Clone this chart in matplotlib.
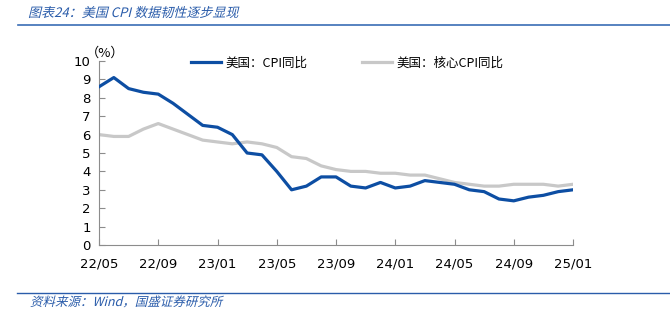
import matplotlib
matplotlib.use("Agg")
import matplotlib.pyplot as plt
from matplotlib.textpath import TextPath
from matplotlib.patches import PathPatch
from matplotlib.font_manager import FontProperties
from matplotlib.transforms import Affine2D

# monthly data, 2022/05 .. 2025/01
months = ["22/05", "22/06", "22/07", "22/08", "22/09", "22/10", "22/11", "22/12",
          "23/01", "23/02", "23/03", "23/04", "23/05", "23/06", "23/07", "23/08",
          "23/09", "23/10", "23/11", "23/12", "24/01", "24/02", "24/03", "24/04",
          "24/05", "24/06", "24/07", "24/08", "24/09", "24/10", "24/11", "24/12",
          "25/01"]
cpi = [8.6, 9.1, 8.5, 8.3, 8.2, 7.7, 7.1, 6.5,
       6.4, 6.0, 5.0, 4.9, 4.0, 3.0, 3.2, 3.7,
       3.7, 3.2, 3.1, 3.4, 3.1, 3.2, 3.5, 3.4,
       3.3, 3.0, 2.9, 2.5, 2.4, 2.6, 2.7, 2.9,
       3.0]
core_cpi = [6.0, 5.9, 5.9, 6.3, 6.6, 6.3, 6.0, 5.7,
            5.6, 5.5, 5.6, 5.5, 5.3, 4.8, 4.7, 4.3,
            4.1, 4.0, 4.0, 3.9, 3.9, 3.8, 3.8, 3.6,
            3.4, 3.3, 3.2, 3.2, 3.3, 3.3, 3.3, 3.2,
            3.3]
label_cpi = "美国：CPI同比"
label_core = "美国：核心CPI同比"
title = "图表24：美国 CPI 数据韧性逐步显现"
source = "资料来源：Wind，国盛证券研究所"

BLUE = "#0D4EA3"
GREY = "#C8C8C8"
TXT_BLUE = "#2A5CAA"
AXIS = "#8C8C8C"
cjk = ["Noto Sans CJK SC", "DejaVu Sans"]

fig = plt.figure(figsize=(6.7, 3.26), dpi=100)
ax = fig.add_axes([99 / 670, 1 - 245 / 326, 474 / 670, 184 / 326])

x = list(range(len(months)))
ax.plot(x, cpi, color=BLUE, lw=2.3, solid_joinstyle="round", label=label_cpi, zorder=3)
ax.plot(x, core_cpi, color=GREY, lw=2.3, solid_joinstyle="round", label=label_core, zorder=2)

ax.set_xlim(0, len(months) - 1)
ax.set_ylim(0, 10)
ax.set_yticks(range(0, 11))
ax.set_xticks(x[::4])
ax.set_xticklabels(months[::4])
for s in ["top", "right"]:
    ax.spines[s].set_visible(False)
for s in ["left", "bottom"]:
    ax.spines[s].set_color(AXIS)
    ax.spines[s].set_linewidth(0.8)
ax.tick_params(axis="both", direction="in", color=AXIS, length=4, width=0.8,
               labelsize=9.5, labelcolor="black")
ax.tick_params(axis="x", pad=9)
ax.tick_params(axis="y", pad=6)

ax.text(-0.9, 10.05, "（%）", fontsize=9.5, family=cjk, ha="left", va="bottom")

leg = ax.legend(loc="upper left", bbox_to_anchor=(0.17, 1.085), ncol=2, frameon=False,
                prop=FontProperties(family=cjk, size=9), handlelength=2.4,
                handletextpad=0.4, columnspacing=4.3)


def skew_text(s, x_px, y_px, size, color):
    # italic look for CJK text (no italic face installed)
    tp = TextPath((0, 0), s, size=size, prop=FontProperties(family=cjk))
    tr = (Affine2D().skew_deg(14, 0).scale(1 / 72.0)
          .translate(x_px / 100.0, (326 - y_px) / 100.0) + fig.dpi_scale_trans)
    fig.patches.append(PathPatch(tp, transform=tr, facecolor=color, edgecolor="none",
                                 figure=fig))


skew_text(title, 28, 17, 9.4, TXT_BLUE)
fig.add_artist(plt.Line2D([18 / 670, 1], [1 - 25 / 326] * 2, color="#3A6DB5", lw=1.2))
fig.add_artist(plt.Line2D([17 / 670, 1], [1 - 293 / 326] * 2, color="#2A5CAA", lw=1.0))
skew_text(source, 30, 306, 9, TXT_BLUE)

fig.savefig("out.png", dpi=100)
